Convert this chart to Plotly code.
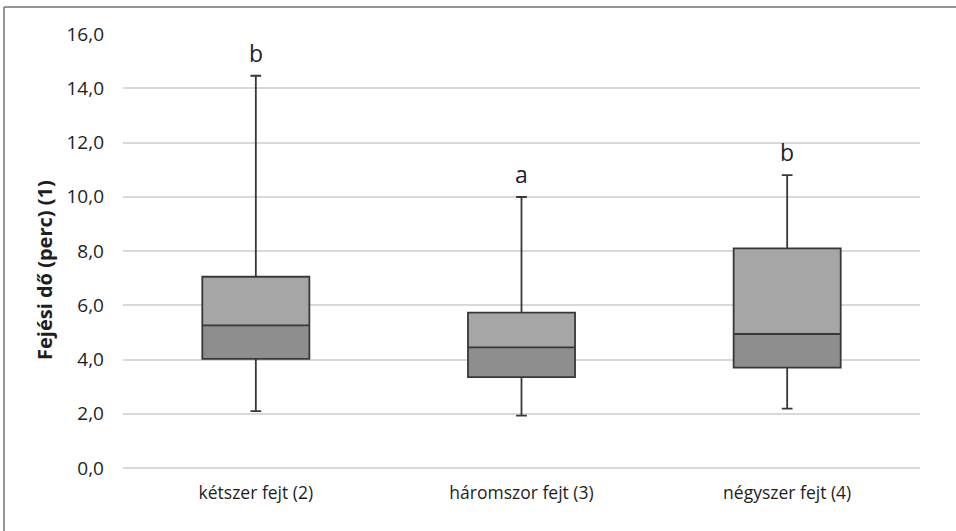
import plotly.graph_objects as go

categories = ["kétszer fejt (2)", "háromszor fejt (3)", "négyszer fejt (4)"]
q1 = [4.02, 3.35, 3.70]
median = [5.26, 4.45, 4.94]
q3 = [7.05, 5.73, 8.10]
lower = [2.10, 1.93, 2.19]
upper = [14.46, 9.99, 10.80]
letters = ["b", "a", "b"]
y_ticks = [0, 2, 4, 6, 8, 10, 12, 14, 16]

DARK = "#8E8E8E"
LIGHT = "#A6A6A6"
EDGE = "#383838"
TXT = "#1E1E1E"
FONT = "Open Sans"
BW = 0.403

fig = go.Figure()
# lower half (Q1 -> median), dark fill
fig.add_trace(go.Bar(
    x=categories, y=[m - a for m, a in zip(median, q1)], base=q1,
    width=BW, marker=dict(color=DARK, line=dict(width=0)),
    hoverinfo="skip", showlegend=False))
# upper half (median -> Q3), light fill
fig.add_trace(go.Bar(
    x=categories, y=[c - m for c, m in zip(q3, median)], base=median,
    width=BW, marker=dict(color=LIGHT, line=dict(width=0)),
    hoverinfo="skip", showlegend=False))
# box outline, median, whiskers
fig.add_trace(go.Box(
    x=categories, q1=q1, median=median, q3=q3,
    lowerfence=lower, upperfence=upper,
    width=BW, whiskerwidth=0.1,
    fillcolor="rgba(0,0,0,0)",
    line=dict(color=EDGE, width=1.8),
    boxpoints=False, showlegend=False))

for c, u, t in zip(categories, upper, letters):
    fig.add_annotation(x=c, y=u, text=t, showarrow=False, yanchor="bottom",
                       yshift=5, font=dict(family=FONT, size=23, color=TXT))

fig.add_annotation(xref="paper", yref="paper", x=(44 - 123) / 797, y=(468 - 270) / 434,
                   text="<b>Fejési dő (perc) (1)</b>", textangle=-90, showarrow=False,
                   xanchor="center", yanchor="middle",
                   font=dict(family=FONT, size=20, color=TXT))

# outer frame (top and left edges)
fig.add_shape(type="line", xref="paper", yref="paper",
              x0=(4 - 123) / 797, x1=(956 - 123) / 797,
              y0=(468 - 7) / 434, y1=(468 - 7) / 434,
              line=dict(color="#707070", width=1.5))
fig.add_shape(type="line", xref="paper", yref="paper",
              x0=(4 - 123) / 797, x1=(4 - 123) / 797,
              y0=(468 - 7) / 434, y1=(468 - 531) / 434,
              line=dict(color="#707070", width=1.5))

fig.update_layout(
    width=956, height=531,
    margin=dict(l=123, r=36, t=34, b=63),
    paper_bgcolor="white", plot_bgcolor="white",
    barmode="overlay", boxmode="overlay",
    separators=", ",
    font=dict(family=FONT, color=TXT, size=17),
    xaxis=dict(type="category", range=[-0.5, 2.5], showgrid=False, showline=False,
               zeroline=False, ticks="", tickfont=dict(size=17.5, color=TXT),
               ticklabelstandoff=12),
    yaxis=dict(range=[0, 16], tickvals=y_ticks, tickformat=".1f",
               showgrid=True, gridcolor="#D9D9D9", gridwidth=1.5,
               zeroline=True, zerolinecolor="#D9D9D9", zerolinewidth=1.5,
               showline=False, ticks="",
               tickfont=dict(size=19, color=TXT), ticklabelstandoff=18),
)

fig.write_html("out.html")
